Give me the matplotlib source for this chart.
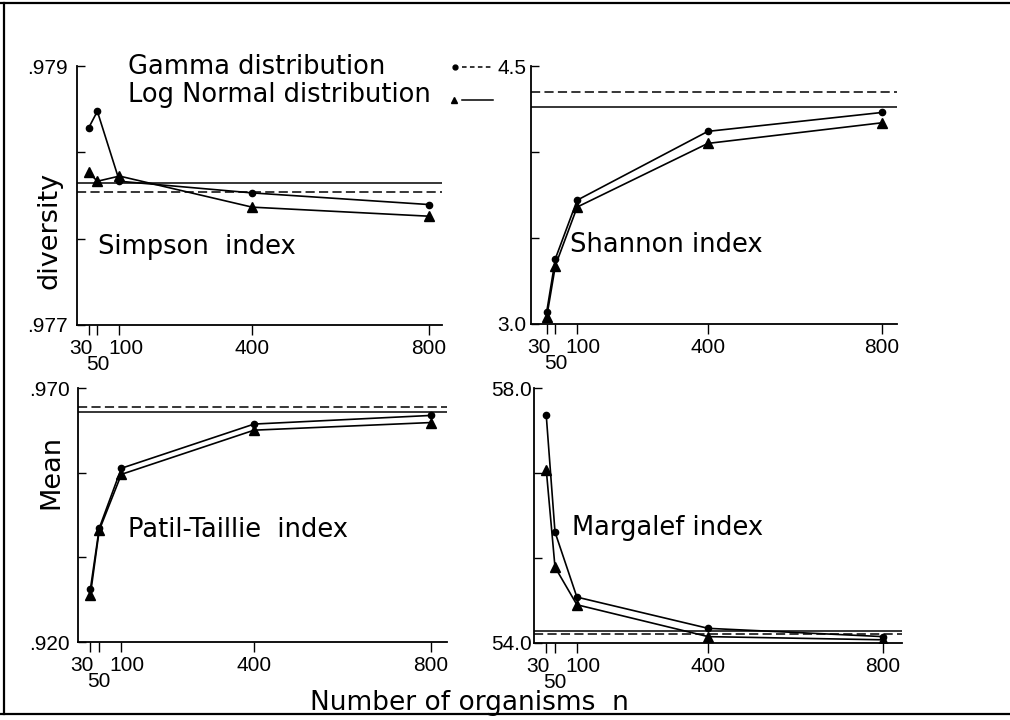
import matplotlib
matplotlib.use("Agg")
import matplotlib.pyplot as plt
import matplotlib.transforms as mtrans
from matplotlib.lines import Line2D
import numpy as np

plt.rcParams['font.family'] = ['Liberation Sans', 'DejaVu Sans']
WIDE = ['DejaVu Sans']  # wider face for the big loosely-set captions

# sample sizes
n = [30, 50, 100, 400, 800]
n_labels = ["30", "50", "100", "400", "800"]

# Simpson index
simpson_gamma = [0.97852, 0.97865, 0.97811, 0.97802, 0.97793]
simpson_lognorm = [0.97818, 0.97811, 0.97815, 0.97791, 0.97784]
simpson_true = [0.97803, 0.97810]  # gamma (dashed), log normal (solid)

# Shannon index
shannon_gamma = [3.07, 3.38, 3.72, 4.12, 4.23]
shannon_lognorm = [3.04, 3.34, 3.68, 4.05, 4.17]
shannon_true = [4.35, 4.26]

# Patil-Taillie index
patil_gamma = [0.9304, 0.9424, 0.9542, 0.9629, 0.9646]
patil_lognorm = [0.9293, 0.9420, 0.9530, 0.9617, 0.9632]
patil_true = [0.9663, 0.9652]

# Margalef index
margalef_gamma = [57.57, 55.74, 54.72, 54.23, 54.10]
margalef_lognorm = [56.72, 55.19, 54.60, 54.10, 54.05]
margalef_true = [54.14, 54.19]

W, H = 1010, 720
fig = plt.figure(figsize=(W / 100, H / 100), dpi=100)


def px(x0, x1, ytop, ybot):
    return [x0 / W, 1 - ybot / H, (x1 - x0) / W, (ybot - ytop) / H]


def shift(lab, dx, dy):
    lab.set_transform(lab.get_transform() +
                      mtrans.ScaledTranslation(dx / 100, dy / 100, fig.dpi_scale_trans))


panels = [
    (px(77, 442, 66, 325), simpson_gamma, simpson_lognorm, simpson_true,
     (0.977, 0.979), [".977", ".979"], (4, 829), "Simpson  index", (0.058, 0.30), 6.5),
    (px(531, 897, 66, 324), shannon_gamma, shannon_lognorm, shannon_true,
     (3.0, 4.5), ["3.0", "4.5"], (-6, 834), "Shannon index", (0.107, 0.305), 3),
    (px(78, 447, 388, 642), patil_gamma, patil_lognorm, patil_true,
     (0.920, 0.970), [".920", ".970"], (2, 836), "Patil-Taillie  index", (0.136, 0.44), 6),
    (px(534, 902, 388, 643), margalef_gamma, margalef_lognorm, margalef_true,
     (54.0, 58.0), ["54.0", "58.0"], (2, 843), "Margalef index", (0.103, 0.45), 1.5),
]

for rect, g, ln, true, ylim, ylab, xlim, name, tpos, ypad in panels:
    ax = fig.add_axes(rect)
    ax.axhline(true[0], color="black", lw=1.1, dashes=(6, 2.8))
    ax.axhline(true[1], color="black", lw=1.1)
    ax.plot(n, g, color="black", lw=1.2, marker="o", ms=4.5)
    ax.plot(n, ln, color="black", lw=1.2, marker="^", ms=7)
    ax.set_xlim(*xlim)
    ax.set_ylim(*ylim)
    for s in ["top", "right"]:
        ax.spines[s].set_visible(False)
    for s in ["left", "bottom"]:
        ax.spines[s].set_linewidth(1.3)
    ax.set_xticks(n)
    ax.set_xticklabels(n_labels, fontsize=15)
    ax.tick_params(axis="x", direction="out", length=7, width=1, pad=3)
    yt = np.linspace(ylim[0], ylim[1], 4)
    ax.set_yticks(yt)
    ax.set_yticklabels([ylab[0], "", "", ylab[1]], fontsize=15)
    ax.tick_params(axis="y", direction="in", length=6, width=1, pad=ypad)
    labs = ax.get_xticklabels()
    shift(labs[0], -8, 0)
    shift(labs[1], 0, -16)   # "50" sits on a second row
    shift(labs[2], 6, 0)
    ax.text(tpos[0], tpos[1], name, transform=ax.transAxes, fontsize=18.5,
            family=WIDE, ha="left", va="center")

# axis titles
fig.text(50 / W, 1 - 230 / H, "diversity", rotation=90, fontsize=19.5,
         family=WIDE, ha="center", va="center")
fig.text(51 / W, 1 - 472 / H, "Mean", rotation=90, fontsize=19.5,
         family=WIDE, ha="center", va="center")
fig.text(469 / W, 1 - 703 / H, "Number of organisms  n", fontsize=19,
         family=WIDE, ha="center", va="center")

# key
fig.text(128 / W, 1 - 67 / H, "Gamma distribution", fontsize=18.5,
         family=WIDE, ha="left", va="center")
fig.text(128 / W, 1 - 95 / H, "Log Normal distribution", fontsize=18.5,
         family=WIDE, ha="left", va="center")
fig.add_artist(Line2D([462 / W, 492 / W], [1 - 67 / H, 1 - 67 / H],
                      color="black", lw=1.1, dashes=(3, 2.2),
                      transform=fig.transFigure))
fig.add_artist(Line2D([455 / W], [1 - 67 / H], color="black", marker="o",
                      ms=3.5, transform=fig.transFigure))
fig.add_artist(Line2D([462 / W, 493 / W], [1 - 100 / H, 1 - 100 / H],
                      color="black", lw=1.1, transform=fig.transFigure))
fig.add_artist(Line2D([454 / W], [1 - 100 / H], color="black", marker="^",
                      ms=5, transform=fig.transFigure))

# page frame
for xs, ys in [([0, 1], [1 - 3 / H, 1 - 3 / H]),
               ([4 / W, 4 / W], [1 - 3 / H, 1 - 714 / H]),
               ([0, 1], [1 - 714 / H, 1 - 714 / H])]:
    fig.add_artist(Line2D(xs, ys, color="black", lw=1.6,
                          transform=fig.transFigure))

fig.savefig("out.png", dpi=100)
